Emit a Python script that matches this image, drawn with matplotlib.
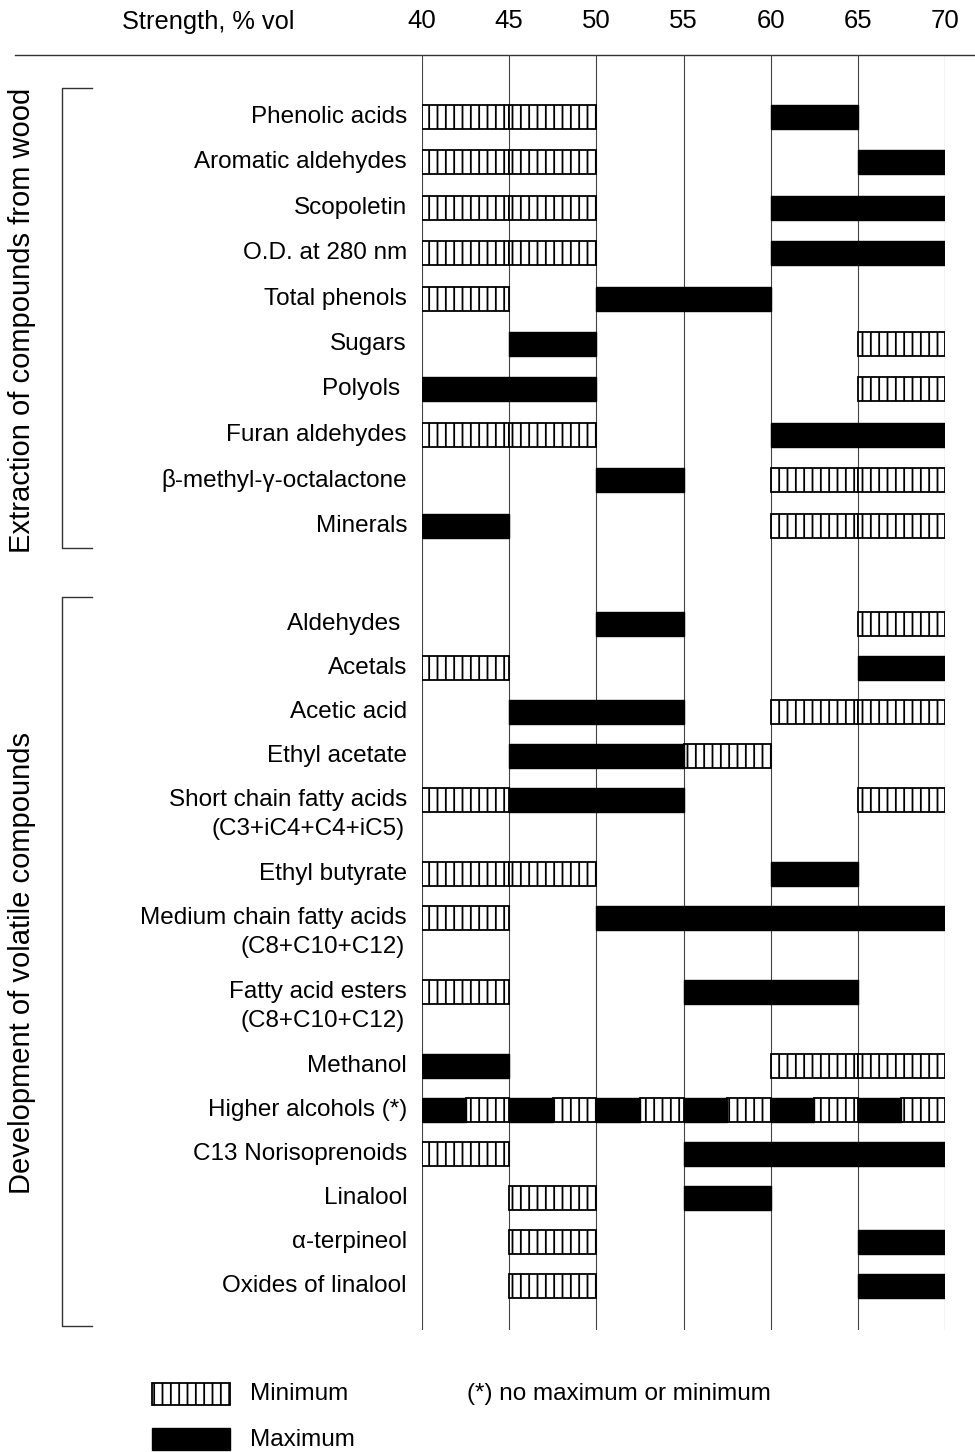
import matplotlib
matplotlib.use("Agg")
import matplotlib.pyplot as plt
from matplotlib.patches import Rectangle

plt.rcParams['font.family'] = ['Liberation Sans', 'DejaVu Sans']
plt.rcParams['hatch.linewidth'] = 1.3

# Alcoholic strength scale (% vol)
strength_ticks = [40, 45, 50, 55, 60, 65, 70]
axis_title = "Strength, % vol"

# Group 1: extraction of compounds from wood
wood_labels = [
    "Phenolic acids", "Aromatic aldehydes", "Scopoletin", "O.D. at 280 nm",
    "Total phenols", "Sugars", "Polyols ", "Furan aldehydes",
    "β-methyl-γ-octalactone", "Minerals",
]
wood_minimum = [
    [(40, 50)], [(40, 50)], [(40, 50)], [(40, 50)], [(40, 45)],
    [(65, 70)], [(65, 70)], [(40, 50)], [(60, 70)], [(60, 70)],
]
wood_maximum = [
    [(60, 65)], [(65, 70)], [(60, 70)], [(60, 70)], [(50, 60)],
    [(45, 50)], [(40, 50)], [(60, 70)], [(50, 55)], [(40, 45)],
]

# Group 2: development of volatile compounds
volatile_labels = [
    "Aldehydes ", "Acetals", "Acetic acid", "Ethyl acetate",
    "Short chain fatty acids\n(C3+iC4+C4+iC5)", "Ethyl butyrate",
    "Medium chain fatty acids\n(C8+C10+C12)", "Fatty acid esters\n(C8+C10+C12)",
    "Methanol", "Higher alcohols (*)", "C13 Norisoprenoids", "Linalool",
    "α-terpineol", "Oxides of linalool",
]
volatile_minimum = [
    [(65, 70)], [(40, 45)], [(60, 70)], [(55, 60)], [(40, 45), (65, 70)],
    [(40, 50)], [(40, 45)], [(40, 45)], [(60, 70)],
    [(42.5, 45), (47.5, 50), (52.5, 55), (57.5, 60), (62.5, 65), (67.5, 70)],
    [(40, 45)], [(45, 50)], [(45, 50)], [(45, 50)],
]
volatile_maximum = [
    [(50, 55)], [(65, 70)], [(45, 55)], [(45, 55)], [(45, 55)],
    [(60, 65)], [(50, 70)], [(55, 65)], [(40, 45)],
    [(40, 42.5), (45, 47.5), (50, 52.5), (55, 57.5), (60, 62.5), (65, 67.5)],
    [(55, 70)], [(55, 60)], [(65, 70)], [(65, 70)],
]

group_titles = ["Extraction of compounds from wood", "Development of volatile compounds"]
legend_labels = ["Minimum", "Maximum"]
footnote = "(*) no maximum or minimum"

W, H = 975, 1452
fig = plt.figure(figsize=(W / 100, H / 100), dpi=100)

# Canvas axes in pixel units (y downward) for labels, brackets and rules
canvas = fig.add_axes([0, 0, 1, 1])
canvas.set_xlim(0, W)
canvas.set_ylim(H, 0)
canvas.axis('off')

# Chart axes: x in % vol, y in pixel rows
x0_px, x1_px = 422, 945
y_top, y_bot = 55, 1330
ax = fig.add_axes([x0_px / W, 1 - y_bot / H, (x1_px - x0_px) / W, (y_bot - y_top) / H])
ax.set_xlim(strength_ticks[0], strength_ticks[-1])
ax.set_ylim(y_bot, y_top)
ax.patch.set_alpha(0)
for s in ax.spines.values():
    s.set_visible(False)
ax.set_yticks([])
ax.set_xticks(strength_ticks)
ax.xaxis.tick_top()
ax.tick_params(axis='x', length=0, pad=16, labelsize=18.5)
for t in strength_ticks:
    ax.axvline(t, color='#444444', lw=0.8, zorder=1)

# Top rule and axis title
canvas.plot([15, W], [y_top, y_top], color='#333333', lw=1.0)
canvas.text(295, 22, axis_title, ha='right', va='center', fontsize=18.3)

BAR_H = 24
LABEL_X = 407
FS = 17.5


def draw_cells(y, ranges, hatched):
    for a, b in ranges:
        # split each range into 5 % vol cells
        edges = [a]
        for t in strength_ticks:
            if a < t < b:
                edges.append(t)
        edges.append(b)
        for lo, hi in zip(edges[:-1], edges[1:]):
            if hatched:
                r = Rectangle((lo, y - BAR_H / 2), hi - lo, BAR_H, facecolor='white',
                              edgecolor='black', hatch='||', lw=1.3, zorder=3)
            else:
                r = Rectangle((lo, y - BAR_H / 2), hi - lo, BAR_H, facecolor='black',
                              edgecolor='black', lw=1.0, zorder=3)
            ax.add_patch(r)


def draw_group(labels, mins, maxs, y_start, step, extra):
    y = y_start
    for lab, mn, mx in zip(labels, mins, maxs):
        lines = lab.split('\n')
        canvas.text(LABEL_X, y, lines[0], ha='right', va='center', fontsize=FS)
        for k, ln in enumerate(lines[1:], 1):
            canvas.text(LABEL_X - 2, y + 29 * k, ln, ha='right', va='center', fontsize=FS)
        draw_cells(y, mn, True)
        draw_cells(y, mx, False)
        y += step + extra * (len(lines) - 1)


draw_group(wood_labels, wood_minimum, wood_maximum, 117, 45.4, 0)
draw_group(volatile_labels, volatile_minimum, volatile_maximum, 624, 44.0, 30)

# Group brackets and titles
for (ya, yb), title in zip([(88, 548), (597, 1326)], group_titles):
    canvas.plot([92, 62, 62, 92], [ya, ya, yb, yb], color='#333333', lw=1.0)
    canvas.text(22, (ya + yb) / 2 + 2, title, rotation=90, ha='center', va='center',
                fontsize=21)

# Legend
canvas.add_patch(Rectangle((152, 1383), 78, 22, facecolor='white', edgecolor='black',
                           hatch='||', lw=1.3))
canvas.add_patch(Rectangle((152, 1428), 78, 22, facecolor='black', edgecolor='black'))
canvas.text(250, 1394, legend_labels[0], ha='left', va='center', fontsize=FS)
canvas.text(250, 1440, legend_labels[1], ha='left', va='center', fontsize=FS)
canvas.text(467, 1394, footnote, ha='left', va='center', fontsize=FS)

fig.savefig("out.png", dpi=100)
